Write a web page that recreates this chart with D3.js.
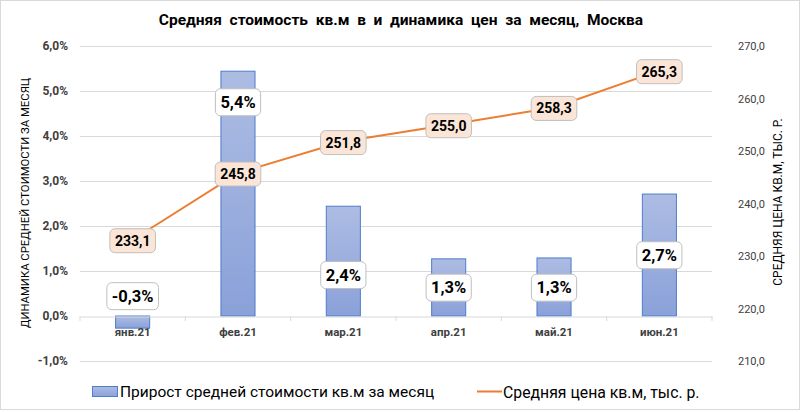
<!DOCTYPE html>
<html><head><meta charset="utf-8">
<script src="https://cdn.jsdelivr.net/npm/d3@7"></script>
<style>body{margin:0;background:#fff}svg{display:block;font-family:Roboto,"Noto Sans",sans-serif}</style>
</head><body>
<svg id="c" width="800" height="412"></svg>
<script>
const categories = ["янв.21","фев.21","мар.21","апр.21","май.21","июн.21"];
const growth = [-0.27, 5.44, 2.44, 1.27, 1.29, 2.71];          // % per month
const growthLabels = ["-0,3%","5,4%","2,4%","1,3%","1,3%","2,7%"];
const growthLabelAt = [0.44, 4.75, 0.91, 0.63, 0.63, 1.35];   // label centre, in % units
const price = [233.1, 245.8, 251.8, 255.0, 258.3, 265.3];      // тыс. р.
const priceLabels = ["233,1","245,8","251,8","255,0","258,3","265,3"];
const leftTicks = [-1,0,1,2,3,4,5,6];
const rightTicks = [210,220,230,240,250,260,270];

const svg = d3.select("#c");
const W=800,H=412, L=80, R=712, T=46, B=361;
svg.append("rect").attr("x",0.5).attr("y",0.5).attr("width",W-1).attr("height",H-3)
  .attr("fill","#fff").attr("stroke","#d9d9d9");

const x = d3.scaleBand().domain(categories).range([L,R]).paddingInner(0.667).paddingOuter(0.333);
const xb = d3.scaleBand().domain(categories).range([L,R]);
const yL = d3.scaleLinear().domain([-1,6]).range([B,T]);
const yR = d3.scaleLinear().domain([210,270]).range([B,T]);
const fmtPct = d => d3.format(".1f")(d).replace(".",",").replace("−","-")+"%";
const fmtR = d => d3.format(".1f")(d).replace(".",",");

const defs = svg.append("defs");
const g = defs.append("linearGradient").attr("id","bg").attr("x1",0).attr("y1",0).attr("x2",0).attr("y2",1);
g.append("stop").attr("offset","0%").attr("stop-color","#adbce3");
g.append("stop").attr("offset","100%").attr("stop-color","#8aa1d9");

// title
svg.append("text").attr("x",401).attr("y",25).attr("text-anchor","middle")
  .attr("font-size",15.5).attr("font-weight","bold").attr("fill","#000").style("white-space","pre")
  .text("Средняя  стоимость  кв.м  в  и  динамика  цен  за  месяц,  Москва");

// grid
const grid = svg.append("g");
grid.selectAll("line").data(leftTicks.filter(d=>d!==0)).join("line")
  .attr("x1",L).attr("x2",R).attr("y1",d=>yL(d)+0.5).attr("y2",d=>yL(d)+0.5)
  .attr("stroke","#d9d9d9").attr("stroke-width",1);

// left axis
const la = svg.append("g").attr("transform",`translate(${L-12},0)`)
  .call(d3.axisLeft(yL).tickValues(leftTicks).tickSize(0).tickPadding(0).tickFormat(fmtPct));
la.select(".domain").remove();
la.selectAll("text").attr("font-size",12).attr("font-weight","bold").attr("fill","#404040")
  .attr("font-family","Roboto,sans-serif");

// right axis
const ra = svg.append("g").attr("transform",`translate(${R+26},0)`)
  .call(d3.axisRight(yR).tickValues(rightTicks).tickSize(0).tickPadding(0).tickFormat(fmtR));
ra.select(".domain").remove();
ra.selectAll("text").attr("font-size",11).attr("fill","#404040").attr("font-family","Roboto,sans-serif");

// bars
svg.append("g").selectAll("rect").data(growth).join("rect")
  .attr("x",(d,i)=>x(categories[i])+0.5).attr("width",x.bandwidth()-1)
  .attr("y",d=>yL(Math.max(0,d))).attr("height",d=>Math.abs(yL(d)-yL(0)))
  .attr("fill","url(#bg)").attr("stroke","#4f7ccb").attr("stroke-width",1);

// x axis
const xa = svg.append("g").attr("transform",`translate(0,${yL(0)+0.5})`)
  .call(d3.axisBottom(xb).tickSize(0).tickPadding(11));
xa.select(".domain").attr("stroke","#d9d9d9");
xa.selectAll("text").attr("font-size",11.5).attr("font-weight","bold").attr("fill","#404040")
  .attr("font-family","Roboto,sans-serif");
svg.append("g").selectAll("line").data(d3.range(categories.length+1)).join("line")
  .attr("x1",i=>L+i*xb.step()).attr("x2",i=>L+i*xb.step())
  .attr("y1",yL(0)).attr("y2",yL(0)+5).attr("stroke","#d9d9d9");

// line
const cx = c => xb(c)+xb.bandwidth()/2;
svg.append("path").datum(price)
  .attr("d",d3.line().x((d,i)=>cx(categories[i])).y(d=>yR(d)))
  .attr("fill","none").attr("stroke","#ed7d31").attr("stroke-width",2);

// labels helper
function label(gsel, cxv, cyv, txt, fs, fill, padX, h){
  const t = gsel.append("text").attr("x",cxv).attr("y",cyv).attr("text-anchor","middle")
    .attr("dominant-baseline","central").attr("font-size",fs).attr("font-weight","bold")
    .attr("fill","#000").text(txt);
  const w = t.node().getComputedTextLength()+padX*2;
  gsel.insert("rect","text:last-of-type").attr("x",cxv-w/2).attr("y",cyv-h/2)
    .attr("width",w).attr("height",h).attr("rx",5).attr("fill",fill)
    .attr("stroke","#bfbfbf").attr("stroke-width",1);
}
const lbl = svg.append("g");
price.forEach((d,i)=>{
  const gg = lbl.append("g");
  label(gg, cx(categories[i]), yR(d)+1, priceLabels[i], 14, "#fbe5d6", 5, 24);
});
growth.forEach((d,i)=>{
  const gg = lbl.append("g");
  label(gg, cx(categories[i]), yL(growthLabelAt[i]), growthLabels[i], 16.5, "#fff", 5, 27);
});

// axis titles
svg.append("text").attr("transform","translate(29,203) rotate(-90)").attr("text-anchor","middle")
  .attr("font-size",11.3).attr("fill","#000").text("ДИНАМИКА СРЕДНЕЙ СТОИМОСТИ ЗА МЕСЯЦ");
svg.append("text").attr("transform","translate(782,202) rotate(-90)").attr("text-anchor","middle")
  .attr("font-size",12).attr("fill","#000").text("СРЕДНЯЯ ЦЕНА КВ.М, ТЫС. Р.");

// legend
const lg = svg.append("g");
lg.append("rect").attr("x",92.5).attr("y",386.5).attr("width",25).attr("height",10)
  .attr("fill","url(#bg)").attr("stroke","#4f7ccb");
lg.append("text").attr("x",120).attr("y",392).attr("dominant-baseline","central")
  .attr("font-size",15.5).attr("fill","#000").text("Прирост средней стоимости кв.м за месяц");
lg.append("line").attr("x1",477).attr("x2",502).attr("y1",391.5).attr("y2",391.5)
  .attr("stroke","#ed7d31").attr("stroke-width",2);
lg.append("text").attr("x",503).attr("y",392).attr("dominant-baseline","central")
  .attr("font-size",15.8).attr("fill","#000").text("Средняя цена кв.м, тыс. р.");
</script>
</body></html>
